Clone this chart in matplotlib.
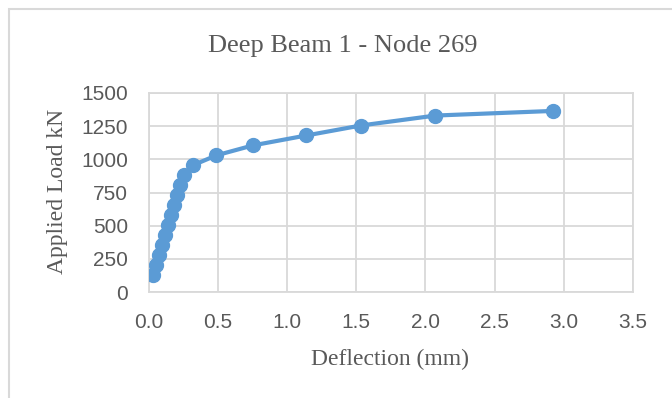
import matplotlib
matplotlib.use("Agg")
import matplotlib.pyplot as plt
from matplotlib.patches import Rectangle

# data
deflection = [0.031, 0.056, 0.077, 0.096, 0.118, 0.139, 0.164, 0.186, 0.207, 0.226,
              0.257, 0.319, 0.489, 0.753, 1.14, 1.533, 2.072, 2.924]
load = [130, 205, 280, 355, 430, 505, 580, 655, 730, 805,
        880, 955, 1030, 1105, 1180, 1255, 1330, 1365]
x_ticks = [0.0, 0.5, 1.0, 1.5, 2.0, 2.5, 3.0, 3.5]
y_ticks = [0, 250, 500, 750, 1000, 1250, 1500]

blue = "#5b9bd5"
grid_c = "#d9d9d9"
text_c = "#595959"
serif = ["Liberation Serif", "DejaVu Serif"]

fig = plt.figure(figsize=(6.72, 3.98), dpi=100)
ax = fig.add_axes([148.7 / 672, 1 - 292 / 398, (633 - 148.7) / 672, (292 - 93) / 398])

ax.plot(deflection, load, "o-", color=blue, lw=3, ms=10, zorder=3)

ax.set_xlim(0, 3.5)
ax.set_ylim(0, 1500)
ax.set_xticks(x_ticks)
ax.set_xticklabels([f"{v:.1f}" for v in x_ticks])
ax.set_yticks(y_ticks)
ax.tick_params(length=0, labelsize=15, labelcolor=text_c, pad=15)
for lab in ax.get_xticklabels() + ax.get_yticklabels():
    lab.set_fontfamily("Liberation Sans")
ax.grid(True, color=grid_c, lw=1.3)
ax.set_axisbelow(True)
for s in ax.spines.values():
    s.set_color(grid_c)
    s.set_linewidth(1.3)

fig.text(343 / 672, 1 - 46 / 398, "Deep Beam 1 - Node 269", ha="center", va="center",
         fontsize=19, color=text_c, family=serif)
fig.text(390 / 672, 1 - 359 / 398, "Deflection (mm)", ha="center", va="center",
         fontsize=17, color=text_c, family=serif)
fig.text(58 / 672, 1 - 191 / 398, "Applied Load kN", ha="center", va="center",
         rotation=90, fontsize=17, color=text_c, family=serif)

# chart border (only top and left visible in the reference)
fig.patches.append(Rectangle((8.5 / 672, -0.1), 1.2, 1 - 8.5 / 398 + 0.1,
                             transform=fig.transFigure, fill=False,
                             edgecolor=grid_c, lw=1.5))

fig.savefig("out.png", dpi=100)
